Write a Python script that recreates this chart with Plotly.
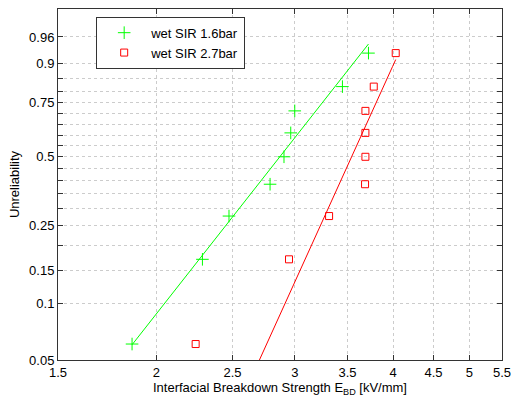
import numpy as np
import plotly.graph_objects as go

# Unreliability (median-rank style) values for each sample
unreliability = [0.061, 0.170, 0.277, 0.386, 0.500, 0.610, 0.713, 0.818, 0.927]

# Breakdown strengths [kV/mm]
ebd_16bar = [1.863, 2.289, 2.474, 2.790, 2.906, 2.964, 2.999, 3.448, 3.721]
ebd_27bar = [2.244, 2.949, 3.316, 3.684, 3.688, 3.688, 3.688, 3.779, 4.030]

# Weibull fit parameters (shape beta, scale alpha)
fit_16bar = {"beta": 5.57, "alpha": 3.066}
fit_27bar = {"beta": 9.65, "alpha": 3.679}

series_names = ["wet SIR 1.6bar", "wet SIR 2.7bar"]

grid_F = [0.05, 0.1, 0.15, 0.2, 0.25, 0.3, 0.35, 0.4, 0.45, 0.5, 0.55, 0.6,
          0.65, 0.7, 0.75, 0.8, 0.85, 0.9, 0.96]
labeled_F = [0.05, 0.1, 0.15, 0.25, 0.5, 0.75, 0.9, 0.96]
x_ticks = [1.5, 2, 2.5, 3, 3.5, 4, 4.5, 5, 5.5]
x_tick_text = ["1.5", "2", "2.5", "3", "3.5", "4", "4.5", "5", "5.5"]


def wb(F):
    F = np.asarray(F, dtype=float)
    return np.log(-np.log(1.0 - F))


def fit_line(xs, p):
    x = np.linspace(min(xs), max(xs), 200)
    y = p["beta"] * (np.log(x) - np.log(p["alpha"]))
    return x, y


fig = go.Figure()

GREEN = "#00ff00"
RED = "#ff0000"

xg, yg = fit_line(ebd_16bar, fit_16bar)
xr, yr = fit_line(ebd_27bar, fit_27bar)

fig.add_trace(go.Scatter(x=xg, y=yg, mode="lines", line=dict(color=GREEN, width=1),
                         showlegend=False, hoverinfo="skip"))
fig.add_trace(go.Scatter(x=xr, y=yr, mode="lines", line=dict(color=RED, width=1),
                         showlegend=False, hoverinfo="skip"))

fig.add_trace(go.Scatter(x=ebd_16bar, y=wb(unreliability), mode="markers",
                         name=series_names[0],
                         marker=dict(symbol="cross-thin-open", size=9,
                                     line=dict(color=GREEN, width=1), color=GREEN)))
fig.add_trace(go.Scatter(x=ebd_27bar, y=wb(unreliability), mode="markers",
                         name=series_names[1],
                         marker=dict(symbol="square-open", size=7,
                                     line=dict(color=RED, width=1), color=RED)))

font_family = "Liberation Sans, Arial, sans-serif"

fig.update_layout(
    width=512, height=401,
    margin=dict(l=58, r=10, t=9, b=41),
    paper_bgcolor="white", plot_bgcolor="white",
    font=dict(family=font_family, size=13, color="black"),
    showlegend=True,
    legend=dict(x=0.086, y=0.978, xanchor="left", yanchor="top",
                bgcolor="white", bordercolor="#333333", borderwidth=1,
                font=dict(size=13), itemwidth=44,
                tracegroupgap=0),
)

fig.update_xaxes(
    type="log",
    range=[np.log10(1.5), np.log10(5.5)],
    tickvals=x_ticks, ticktext=x_tick_text,
    ticks="inside", ticklen=5, tickcolor="#333333",
    showline=True, linecolor="#333333", linewidth=1, mirror="ticks",
    showgrid=True, gridcolor="#cccccc", griddash="dot", gridwidth=1,
    zeroline=False, automargin=False,
    title=dict(text="Interfacial Breakdown Strength E<sub>BD</sub> [kV/mm]",
               font=dict(size=13), standoff=4),
)

fig.update_yaxes(
    range=[float(wb(0.05)), float(wb(0.99))],
    tickvals=list(wb(grid_F)),
    ticktext=[(("%g" % f) if f in labeled_F else "") for f in grid_F],
    ticks="inside", ticklen=5, tickcolor="#333333",
    showline=True, linecolor="#333333", linewidth=1, mirror="ticks",
    showgrid=True, gridcolor="#cccccc", griddash="dot", gridwidth=1,
    zeroline=False, automargin=False,
    title=dict(text="Unreliability", font=dict(size=13), standoff=6),
)

fig.write_html("out.html")
